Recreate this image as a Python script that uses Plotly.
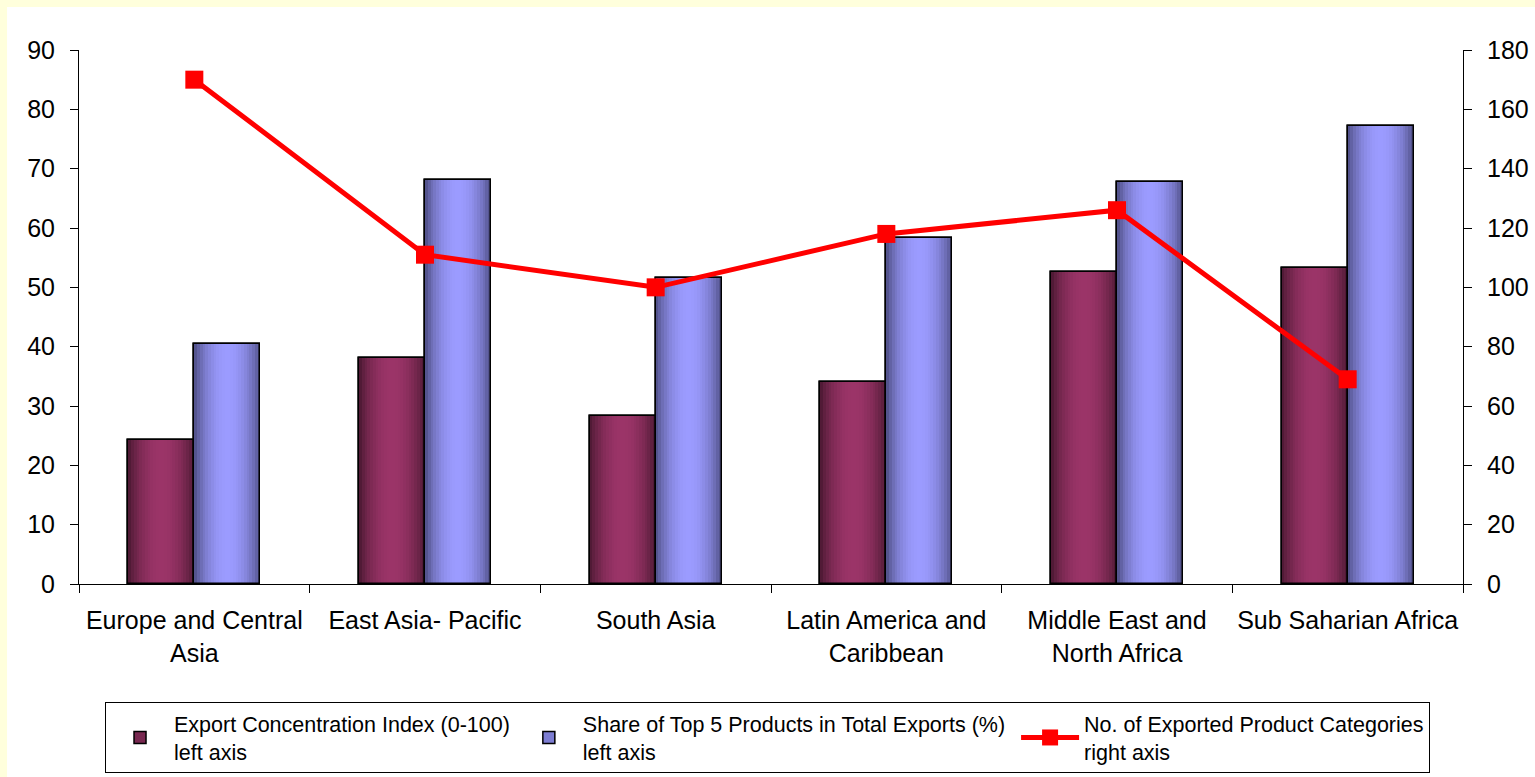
import numpy as np
import plotly.graph_objects as go

# ---- data ----
regions = ["Europe and Central Asia", "East Asia- Pacific", "South Asia",
           "Latin America and Caribbean", "Middle East and North Africa",
           "Sub Saharian Africa"]
region_labels = ["Europe and Central<br>Asia", "East Asia- Pacific", "South Asia",
                 "Latin America and<br>Caribbean", "Middle East and<br>North Africa",
                 "Sub Saharian Africa"]
concentration_index = [24.3, 38.1, 28.3, 34.0, 52.6, 53.3]
top5_share = [40.4, 68.1, 51.6, 58.3, 67.8, 77.2]
product_categories = [170, 111, 100, 118, 126, 69]
left_ticks = list(range(0, 91, 10))
right_ticks = list(range(0, 181, 20))

name_conc = "Export Concentration Index (0-100)<br>left axis"
name_share = "Share of Top 5 Products in Total Exports (%)\u00a0<br>left axis"
name_count = "No. of Exported Product Categories<br>right axis"

FONT = "Arial, Liberation Sans, sans-serif"
BAR_W = 0.286


def mix(c1, c2, k):
    return "rgb(%d,%d,%d)" % tuple(round(a + (b - a) * k) for a, b in zip(c1, c2))


def shaded_bars(fig, values, offset, dark, light, n=24):
    """Cylinder-like horizontal shading built from thin vertical bar strips."""
    step = BAR_W / n
    for i in range(n):
        t = (i + 0.5) / n
        k = np.sin(np.pi * t) ** 0.7
        fig.add_trace(go.Bar(
            x=regions, y=values,
            offset=offset + i * step,
            width=step * 1.7 if i < n - 1 else step,
            marker=dict(color=mix(dark, light, k), line=dict(width=0)),
            showlegend=False, hoverinfo="skip"))


MAROON_DARK, MAROON_LIGHT = (68, 22, 45), (155, 52, 104)
BLUE_DARK, BLUE_LIGHT = (72, 72, 122), (155, 155, 255)

fig = go.Figure()

# legend-carrying base bars
fig.add_trace(go.Bar(x=regions, y=concentration_index, offset=-BAR_W, width=BAR_W,
                     name=name_conc,
                     marker=dict(color="rgb(120,40,80)", line=dict(color="black", width=1.5))))
fig.add_trace(go.Bar(x=regions, y=top5_share, offset=0, width=BAR_W,
                     name=name_share,
                     marker=dict(color="rgb(125,125,210)", line=dict(color="black", width=1.5))))

shaded_bars(fig, concentration_index, -BAR_W, MAROON_DARK, MAROON_LIGHT)
shaded_bars(fig, top5_share, 0, BLUE_DARK, BLUE_LIGHT)

# outlines on top of the shading
for vals, off in ((concentration_index, -BAR_W), (top5_share, 0)):
    fig.add_trace(go.Bar(x=regions, y=vals, offset=off, width=BAR_W,
                         marker=dict(color="rgba(0,0,0,0)", line=dict(color="black", width=1.5)),
                         showlegend=False, hoverinfo="skip"))

fig.add_trace(go.Scatter(x=regions, y=product_categories, yaxis="y2",
                         mode="lines+markers", name=name_count,
                         line=dict(color="#FF0000", width=5),
                         marker=dict(symbol="square", size=18, color="#FF0000")))

axis_common = dict(showgrid=False, zeroline=False, linecolor="black", linewidth=1,
                   tickcolor="black", ticklen=8, tickwidth=1)
tick_font = dict(family=FONT, size=25, color="black")

fig.update_layout(
    width=1535, height=777,
    margin=dict(l=79, r=72, t=50, b=193, autoexpand=False),
    paper_bgcolor="#FFFFDC", plot_bgcolor="white",
    barmode="overlay", bargap=0,
    font=dict(family=FONT, color="black"),
    xaxis=dict(type="category", categoryorder="array", categoryarray=regions,
               tickmode="array", tickvals=regions, ticktext=region_labels,
               tickson="boundaries", ticks="outside", showline=True,
               range=[-0.5, 5.5], ticklabelstandoff=14,
               tickfont=tick_font, **axis_common),
    yaxis=dict(range=[0, 90], tickvals=left_ticks, ticks="outside", showline=True,
               ticklabelstandoff=10, tickfont=tick_font, **axis_common),
    yaxis2=dict(range=[0, 180], tickvals=right_ticks, overlaying="y", side="right",
                ticks="outside", showline=True, ticklabelstandoff=10,
                tickfont=tick_font, **axis_common),
    yaxis3=dict(range=[0, 90], tickvals=left_ticks, overlaying="y", side="left",
                ticks="inside", showline=False, showticklabels=False,
                showgrid=False, zeroline=False, tickcolor="black", ticklen=8),
    yaxis4=dict(range=[0, 180], tickvals=right_ticks, overlaying="y", side="right",
                ticks="inside", showline=False, showticklabels=False,
                showgrid=False, zeroline=False, tickcolor="black", ticklen=8),
    legend=dict(orientation="h", x=0.0188, xanchor="left", y=-0.221, yanchor="top",
                bgcolor="white", bordercolor="black", borderwidth=1,
                font=dict(family=FONT, size=21.5, color="black"),
                itemwidth=58, traceorder="normal"),
    shapes=[dict(type="rect", xref="paper", yref="paper", layer="below",
                 x0=-0.052, x1=1.1, y0=-0.5, y1=1.0805,
                 fillcolor="white", line=dict(width=0))],
    showlegend=True,
)

fig.write_html("out.html")
